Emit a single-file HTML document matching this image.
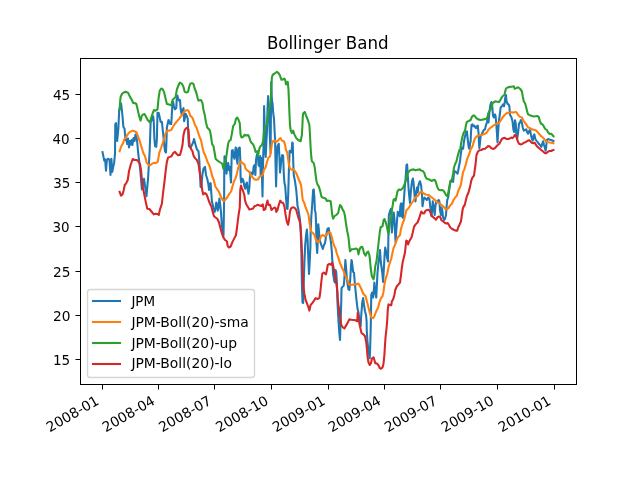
<!DOCTYPE html>
<html lang="en"><head><meta charset="utf-8"><title>Bollinger Band</title>
<style>html,body{margin:0;padding:0;background:#fff;}body{width:640px;height:480px;overflow:hidden;}svg{display:block;}text{font-family:'DejaVu Sans','Liberation Sans',sans-serif;fill:#000;}</style></head><body>
<svg width="640" height="480" viewBox="0 0 640 480">
<rect x="0" y="0" width="640" height="480" fill="#ffffff"/>
<g fill="#000000">
<rect x="102" y="384" width="1" height="5.5"/>
<rect x="158" y="384" width="1" height="5.5"/>
<rect x="214" y="384" width="1" height="5.5"/>
<rect x="271" y="384" width="1" height="5.5"/>
<rect x="328" y="384" width="1" height="5.5"/>
<rect x="384" y="384" width="1" height="5.5"/>
<rect x="440" y="384" width="1" height="5.5"/>
<rect x="497" y="384" width="1" height="5.5"/>
<rect x="554" y="384" width="1" height="5.5"/>
<rect x="75.5" y="94" width="5" height="1"/>
<rect x="75.5" y="138" width="5" height="1"/>
<rect x="75.5" y="182" width="5" height="1"/>
<rect x="75.5" y="226" width="5" height="1"/>
<rect x="75.5" y="271" width="5" height="1"/>
<rect x="75.5" y="315" width="5" height="1"/>
<rect x="75.5" y="359" width="5" height="1"/>
</g>
<g font-size="13.889">
<text transform="translate(49.776 432.453) rotate(-30)">2008-01</text>
<text transform="translate(105.787 432.453) rotate(-30)">2008-04</text>
<text transform="translate(162.223 432.453) rotate(-30)">2008-07</text>
<text transform="translate(219.253 432.453) rotate(-30)">2008-10</text>
<text transform="translate(275.883 432.453) rotate(-30)">2009-01</text>
<text transform="translate(331.801 432.453) rotate(-30)">2009-04</text>
<text transform="translate(387.937 432.453) rotate(-30)">2009-07</text>
<text transform="translate(444.767 432.453) rotate(-30)">2009-10</text>
<text transform="translate(501.797 432.453) rotate(-30)">2010-01</text>
<text transform="translate(70.278 99.528) scale(0.98 1.04)" text-anchor="end">45</text>
<text transform="translate(69.653 143.528) scale(0.97 1.06)" text-anchor="end">40</text>
<text transform="translate(70.278 187.528) scale(0.97 1)" text-anchor="end">35</text>
<text transform="translate(69.528 231.528) scale(0.97 1.02)" text-anchor="end">30</text>
<text transform="translate(70.403 276.528) scale(0.99 1.06)" text-anchor="end">25</text>
<text transform="translate(70.403 320.528) scale(0.99 1.04)" text-anchor="end">20</text>
<text transform="translate(70.278 364.528) scale(0.98 1)" text-anchor="end">15</text>
</g>
<clipPath id="axclip"><rect x="80" y="57.6" width="496" height="326.4"/></clipPath>
<g clip-path="url(#axclip)" fill="none" stroke-width="2.083" stroke-linejoin="round" stroke-linecap="square">
<path d="M102.50 152.12 L103.50 156.88 L104.25 160.62 L105.12 159.38 L106 170.62 L106.88 160 L107.75 158.75 L108.62 159 L109.50 160 L110.50 175 L111.38 158.75 L112.25 171.88 L113.25 166.88 L114.12 163.12 L115 153.75 L115.30 124 L116 123 L117.20 141 L118.40 128 L119.20 110 L121.10 103.50 L122.50 116 L123.40 127 L124.50 128.50 L125.60 140 L126.30 139 L127.20 144 L128 138.50 L129 147.50 L130 141 L130.80 144.50 L131.60 140 L132.40 145 L133.50 138 L134.50 141 L135.50 134.50 L136.40 136 L137.25 142.50 L138.12 152.50 L139.38 162.50 L140.25 170 L141.88 189.38 L144 178.75 L146.50 196.25 L148.12 177.50 L149 162.50 L149.75 148.75 L150.62 122.50 L153.12 116.25 L153.75 121.25 L154.38 138.75 L155.12 146.25 L156.25 146.75 L156.88 138.75 L157.50 112.75 L158.75 113.12 L160 118.75 L160.62 121.88 L161.88 121.88 L162.50 127.50 L163.75 140 L165 151.25 L166 152.50 L166.50 140 L166.88 127.50 L168.50 120 L170 123.75 L171.25 124 L172.25 106.88 L173.12 101.88 L174 106.88 L175 109.38 L176.25 108.12 L176.75 98.75 L177.38 95.50 L178.12 98.75 L179 100.62 L179.75 100 L180 100 L180.62 108.75 L181.50 113.75 L182.50 110 L183.50 108.12 L184.12 121.25 L185 117.50 L185.62 113.75 L186.88 116.25 L187.75 118.75 L188.12 130 L188.50 140 L189 146.25 L190.62 147.50 L191.88 145 L193.12 142.50 L194 139 L195.62 145 L196.88 149.38 L198.50 151.25 L199.38 161.25 L200 175 L200.62 186.88 L201.50 185 L202.50 173.75 L203.50 168.75 L205 166.88 L206 175 L207.25 178.75 L208.50 185 L209 190 L209.75 183.75 L210.62 183.12 L211.25 192.50 L212 201.88 L212.50 203.75 L213.75 209.38 L214.75 211.88 L215.62 207.50 L216.25 202.50 L216.88 203.75 L217.75 210.62 L218.50 207.50 L219.38 198.50 L220.25 205 L221 212.50 L221.75 223.75 L222.62 232.50 L223.50 235.75 L224.12 200 L224.25 172.50 L224.50 156.25 L225.25 156.88 L226 161.25 L226.50 173.75 L227.25 167.50 L228.12 163.12 L229 170 L229.75 166.88 L230.38 175 L231 182.50 L231.50 162.50 L231.88 150.62 L232.75 150 L233.50 156.25 L234.38 158.75 L235 153.75 L235.62 147.50 L236.25 148.12 L236.88 160 L237.50 163.75 L238.12 152.50 L238.75 148.12 L239.75 147.50 L240.25 158.75 L240.62 177.50 L241.25 182.50 L242.50 178.75 L243.50 181.25 L244.38 186.25 L245.25 188.75 L246.25 183.75 L246.88 182.50 L247.50 187.50 L248.50 193.75 L249.38 187.50 L250 175 L250.62 172.50 L251.88 173.12 L252.75 174.38 L253.75 166.25 L254.62 165 L255.38 175 L256 160 L256.88 155 L257.75 153.12 L258.50 165 L259.38 166.25 L259.88 158.75 L260.20 156 L260.70 175 L261.30 158 L261.90 172 L262.50 196.50 L263.10 162 L263.70 140 L264.10 106 L264.70 125 L265.20 150 L265.70 157 L266.30 144 L266.90 132 L267.50 110 L268.10 96 L268.80 108 L269.40 125 L270 140 L270.60 153 L271.20 82 L271.90 100 L272.60 104 L273.20 113 L274 119 L274.60 131 L275.10 140 L275.50 162 L276.10 186.50 L276.88 156.25 L277.50 146.25 L278.75 143.75 L279.38 156.25 L280 172.50 L280.62 167.50 L281.25 160 L282.25 155 L283.12 155.62 L283.75 172.50 L284.38 182.50 L285.20 186 L286 197.50 L286.90 208.50 L287.50 209 L288.20 195 L288.90 170 L289.60 151 L290.62 150.62 L291.50 152.50 L292.25 142.50 L292.75 143.12 L293.25 162.50 L293.75 175 L295 181.25 L296.25 190 L296.88 197.50 L297.50 205.62 L298.50 210 L300 220 L300.75 232.50 L301.38 252.50 L301.88 282.50 L302.50 302.50 L303.12 303.12 L303.75 282.50 L304.38 263.75 L305.20 245 L306 236 L306.90 229.50 L307.60 240 L308.30 258 L309 274 L309.70 262 L310.40 247 L310.62 232.50 L311.25 217.50 L312.25 203.75 L313.12 190 L313.75 189.38 L314.38 197.50 L314.88 210 L315.62 213.12 L316.12 225 L316.40 242 L317.20 253 L317.80 240 L318.30 224.20 L319.20 234 L320 241 L321.30 245 L322.80 249 L324 245 L325 243 L326.25 235 L327.50 228.75 L328.75 228.12 L329.75 235 L330.62 240 L331.25 245 L331.88 252.50 L332.50 263.75 L333.12 273.75 L334.38 281.25 L335 282.50 L335.62 270 L336.25 272.50 L336.88 282.50 L337.50 302.50 L338.50 321.25 L339.38 333.75 L340 340 L340.62 321.25 L341.25 302.50 L341.50 288.12 L342.50 286.88 L343.75 285.62 L344.38 278.75 L345 266.25 L345.38 260 L346.25 270 L346.88 278.75 L347.75 285 L348.50 289.38 L349.38 290 L350.25 278.75 L351 266.25 L351.50 260 L351.88 261.25 L352.50 266.25 L353.12 271.88 L354 272.50 L354.75 282.50 L355.62 291.25 L356.50 300 L357.50 308.75 L358.50 312.50 L360 326.25 L360.62 326.25 L361.25 315 L362.25 302.50 L363.12 298.12 L364 305 L365 311.25 L366 315 L366.62 321.25 L366.75 330 L367.50 342.50 L368.75 352.50 L369.75 358.12 L370.25 345 L370.75 326.25 L371.25 295 L372.25 292.50 L373.12 297.50 L373.75 291.25 L374.38 282.50 L375 290 L376.25 297.50 L376.88 285 L377.50 272.50 L378.12 266.25 L378.75 260 L379.40 256 L380 250 L380.80 262 L382.20 272 L383.10 282 L383.90 268 L384.60 255 L385.20 247.50 L386.20 252 L387.20 258 L388 261.50 L388.38 237.50 L388.62 225 L388.88 215 L390 211.25 L391 208.75 L391.50 218.75 L391.88 232.50 L392.50 225 L393.75 212.50 L394.50 220 L395 231.25 L395.62 242.50 L396.25 231.25 L396.88 222.50 L397.75 211.88 L398.75 212.50 L399.75 216.25 L400.30 207 L400.90 203.50 L401.60 216.50 L402.30 203.50 L403 218 L403.60 204 L404.10 197 L404.75 187.50 L405.38 181.25 L406 172.50 L406.50 165 L407.12 164.38 L407.75 175 L408.50 187.50 L409.25 196.25 L410 203 L410.88 191.25 L412 181.25 L412.88 178.50 L413.50 182.50 L414.25 191.25 L414.88 198.75 L415.50 201.50 L416.25 192.50 L417 187.50 L417.75 192.50 L418.50 185 L419.75 181.25 L420 181.25 L421 185 L421.88 192.50 L422.50 206.25 L423.50 200 L424.38 197.50 L425.62 198.75 L426.88 200 L428.12 197.50 L429.38 198.75 L430.25 206.25 L431 211.25 L431.50 216.25 L432.25 210 L432.75 201.25 L433.75 207.50 L434.75 215 L435.25 207.50 L436 202.50 L437.50 201.25 L438.75 200 L439.38 201.25 L440 210 L441 215 L441.50 207.50 L442.25 210 L443.12 217.50 L444 220 L445 218.75 L446 215 L446.50 207.50 L447.25 200 L448.12 197.50 L449.38 188.75 L450.62 180.62 L451.88 181.25 L453.12 181.88 L453.75 175 L454.75 171.25 L456.25 171.88 L457.50 173.75 L458.12 171.25 L459 166.25 L460 161.25 L461 152.50 L461.88 147.50 L463.12 148.75 L464 141.25 L465 136.25 L466 132.50 L466.88 131.25 L467.50 137.50 L468.12 142.50 L468.75 147.50 L469.38 148.75 L470 143.75 L470.62 141.25 L471 132.50 L471.50 125 L472.50 124.38 L473.50 126.25 L474.38 125.62 L475 126.88 L476 128.12 L476.88 126.25 L477.75 125.62 L478.50 132.50 L479 142.50 L479.38 148.12 L480 142.50 L480.62 136.25 L481.50 135 L482.50 132.50 L483.75 130 L485 129.38 L486 125 L486.88 122.50 L487.75 118.75 L488.50 122.50 L489.38 112.50 L490.38 105 L491.38 102 L492.12 104.38 L492.62 111.25 L493.12 116.25 L494 117.50 L495 114.38 L495.62 116.25 L496.25 123.75 L496.88 132.50 L497.50 142.50 L498.12 132.50 L498.75 122.50 L499.75 115 L500.62 107.50 L501.88 106.25 L503.12 104.38 L504 106.25 L504.75 102.50 L505.25 97.50 L506 95 L506.50 101.25 L507.50 103.75 L508.50 104.38 L509.38 106.25 L510 115 L510.62 115.62 L511.50 117.50 L512.50 121.25 L513.38 129.38 L514.12 131.88 L515 120.25 L515.75 123.75 L516.38 135 L517 139 L517.75 135 L518.38 130 L519 123.75 L520 122.50 L521 120 L521.88 122.50 L522.75 127.50 L523.75 130.62 L525 130 L526.25 129.38 L527.25 132.50 L528.12 133.75 L529 131.25 L530 130 L531 135 L531.88 138.75 L532.75 140.62 L533.75 135 L534.38 134.38 L535.25 138.75 L536.25 140.62 L537.50 141.88 L538.75 143.75 L540 145 L541.25 146.88 L542.25 143.75 L543.12 141.25 L544 145 L544.75 147.50 L545.62 150.62 L546.25 146.25 L546.88 140 L548.12 139 L550 139.75 L551.88 140.25 L553.45 141" stroke="#1f77b4"/>
<path d="M119.62 151.25 L121.25 146.25 L123.12 143.12 L124.38 139.38 L126.25 136.88 L128.12 133.75 L130 131.88 L132.75 130.62 L135 131.50 L136.62 132.50 L137.88 136.25 L139.38 140 L141.25 146.25 L143.12 152.50 L145 156.25 L146.88 163.12 L149.38 165.62 L151.25 164.38 L153.75 162.75 L155.62 163.12 L157.75 161.88 L159.38 152.50 L161.25 147.50 L162.50 143.75 L163.75 140 L165.62 133.12 L167.50 130.62 L169.38 130.62 L171.25 130 L172.50 127.50 L175 123.75 L177.50 120.62 L179.75 118.12 L180 117.50 L181.88 115 L183.75 112.25 L185.62 110.62 L187.50 110 L188.75 111.25 L190.25 115.62 L192.25 117.50 L193.75 121.25 L195 125 L196.50 127.50 L198.12 132.50 L199.75 137.50 L201 140 L202.25 146.25 L203.75 152.50 L205.62 156.25 L207.25 161.25 L209.38 165.62 L211 171.25 L212.25 176.25 L213.75 180 L215.25 186.25 L217.25 189.38 L218.75 191.50 L220.62 196 L222.25 199.50 L223.62 201 L225.12 200 L227.25 197.25 L229.38 193.75 L231.25 191.25 L232.50 186.25 L234 181.25 L235.62 178.12 L236.88 173.75 L238.12 168.12 L239.75 163.75 L241 161.50 L242.50 163.12 L244.38 164.38 L245.62 168.75 L247.50 170.62 L249.38 171.88 L250.62 175.62 L252.50 177.25 L254.38 179.38 L256.25 179.75 L258.12 179.38 L259.75 176.50 L260 176.25 L261.88 175.62 L263.12 173.75 L264 169.38 L265.62 167.50 L266.88 162.50 L268.12 158.12 L270 156.25 L271 151.25 L271.88 143.75 L273.12 141 L274.75 140.62 L276.25 141.88 L278.12 140.62 L279.38 138.75 L280.62 138.12 L281.88 140.62 L283.75 141.25 L285 144.38 L286 150 L287.25 152.50 L288.12 158.75 L289 165 L290 168.75 L291.50 169.75 L293.50 169 L295 171.25 L296.25 173.12 L297.50 176.25 L299 180 L300.62 183.75 L301.25 186.25 L301.88 192.50 L302.75 200 L304.38 203.12 L305.62 207.50 L307.25 211.25 L308.50 215 L309.38 221.25 L310.25 227.50 L311.25 231.88 L313.12 233.12 L314.38 235 L315.62 238.75 L316.88 241.25 L318.50 242.25 L319.75 240 L321 236.25 L322.50 235 L324.38 236 L326.25 235.62 L327.50 233.12 L329 232.25 L330.62 233.12 L331.88 237.50 L333.12 242.50 L334.38 246.25 L335.62 248.75 L336.88 253.75 L338.50 258.12 L340 263.12 L341.88 267.50 L343.75 271.25 L345.62 276.25 L347.50 280 L349 284.38 L350.62 285 L352.50 284.75 L356.25 284.38 L358.12 283.50 L359.38 285 L361.25 288.75 L363.12 293.50 L365.62 296.25 L366.88 301.25 L368.50 307.50 L370 313.75 L371.50 317.50 L373.12 318.12 L374.38 316.25 L376.25 311.25 L378.12 307.50 L379.38 302.50 L381 298.12 L382.50 296.25 L383.50 291.88 L384.38 285 L385.62 278.75 L387.25 273.75 L388.75 266.25 L390 262.50 L391.25 258.75 L392.25 253.75 L393.50 248.12 L395 245 L396.25 241.25 L397.50 238.12 L398.75 236.25 L400 235 L401 228.75 L402.50 223.75 L404 220 L405.25 215 L406.50 210 L408.12 208.75 L409.75 206.25 L411.25 203.75 L413.12 201.25 L414.75 198.12 L416.25 196.88 L418.12 195.62 L419.75 193.12 L420 192.25 L421.88 191.88 L423.75 193.50 L426.25 194.75 L428.75 195 L430.25 196.25 L431.88 197.50 L433.75 199 L435.62 200.62 L437.50 202.50 L440 203.75 L441.88 205.25 L443.75 206.88 L445.25 208.75 L446.88 209.38 L448.50 208.12 L450 205.62 L451.88 203.75 L453.50 200 L455.25 197.50 L456.88 195.62 L458.12 191.25 L459.75 187.50 L461 184.38 L461.88 178.75 L463.12 171.88 L464.38 169.38 L465.62 165 L466.88 160 L468.12 156.88 L469.38 153.75 L470.62 149.38 L472.50 146.25 L473.75 141.88 L475 138.12 L476.88 136.25 L479.38 135.25 L481.88 134.75 L484.38 134 L486.25 133.12 L487.50 131.25 L488.75 129.38 L490 128.12 L491.88 126.88 L493.75 125.25 L495.62 124 L497.50 123.50 L499.38 122.50 L501 120 L502.50 117.50 L504.38 115.25 L506.25 113.50 L508.12 112.75 L510 112.50 L511.88 112.25 L513.75 112.50 L515.62 111.88 L516.88 112.75 L518.12 115 L520 116.88 L521.88 117.50 L523.12 120 L524.75 122.50 L526.25 124.38 L528.12 127.50 L530 128.12 L531.88 129.38 L533.75 129.75 L535.62 130.25 L537.50 131.88 L539 133.75 L540.62 135.62 L542.50 137.25 L544 138.75 L545.62 141 L547.50 141.88 L549.38 142.50 L551.25 142.75 L553.12 143.12 L553.45 143.25" stroke="#ff7f0e"/>
<path d="M119.62 109.75 L120.25 100 L120.75 96.50 L122.25 93.50 L124.38 92.12 L126.25 91.88 L128.12 92.88 L130 96.88 L131.88 100 L133.12 102.88 L135 103.12 L136.38 104 L137.50 108.75 L139 115.62 L140.62 120.62 L141.88 115.62 L143.12 114.38 L144.50 114 L145.75 116.25 L147.50 119.75 L150 122.50 L151.25 117.50 L152.50 113.75 L154 110 L155.62 110.62 L157.50 109.38 L158.50 98.75 L159.75 90.62 L161.25 88.50 L162.50 89 L164 91.88 L165.62 98.75 L166.88 104 L168.75 104.38 L171.25 105.38 L172.50 100 L174.38 98.12 L175.62 96.88 L176.88 89.38 L178.12 86.25 L179.75 82.75 L180 82.50 L181.88 83.75 L183.50 86.88 L184.75 91.88 L186.50 92.50 L188.12 91.88 L189 87.50 L190.25 83.75 L191.88 83.12 L193.50 84 L194.75 88.75 L196.25 92.50 L197.50 97.50 L198.50 100.62 L199.75 100.25 L201 100 L202.50 103.12 L203.50 110 L204.75 115 L206 122.50 L207.25 127.50 L208.75 129 L210 130.62 L211 136.25 L211.75 141.88 L212.25 144.38 L213.50 146.25 L214.38 151.25 L215.62 158.75 L217.50 160.62 L220 162.25 L222.25 163.75 L223.50 169 L224.38 163.75 L226 158.75 L227.25 150 L228.12 143.75 L229.25 140.75 L230.62 140.12 L231.25 136.88 L231.88 133.75 L233.12 126.25 L234.75 123.75 L236 118.75 L237.25 117.50 L238.50 119.75 L239.75 123.12 L240.62 135 L241.50 137.50 L243.12 136.88 L244.75 134.75 L246.25 135.62 L248.12 135 L249.38 137.50 L250.25 140.62 L251.25 142.50 L253.12 144.38 L254.38 147.50 L255.62 151.88 L257.25 151.25 L258.12 155.62 L259 150 L260 146.88 L261.88 145 L263.12 141.25 L264 132.50 L265 126.25 L266.88 125 L267.75 117.50 L268.50 110 L269.75 107.50 L270.62 101.25 L271.25 90 L271.88 77.50 L272.75 74.75 L274.38 73.75 L275.62 72.75 L276.88 71.88 L278.50 73.12 L279.75 75 L280.62 77.50 L281.50 79.75 L283.12 79.38 L284.38 78.50 L285.38 80.62 L286 84.38 L286.88 82.50 L287.75 81.88 L288.50 90 L289 102.50 L289.50 115 L290 125 L290.62 130 L291.88 133.12 L293.12 130.62 L294.38 134.38 L296.25 138.12 L298.12 140 L300.62 141.25 L301.88 135 L302.30 127.50 L302.75 117.50 L303.12 113.50 L304.75 111.88 L305.62 114.38 L306.88 117.50 L308.12 120.62 L309.38 125 L310 135 L310.62 147.50 L311.25 156.25 L311.88 161.25 L313.75 163.12 L314.75 167.50 L315.62 175 L316.50 181.25 L317.50 184.38 L319 186.88 L320.25 191.25 L321.50 196.88 L323.12 197.75 L325.62 198.50 L326.88 201 L328.75 200.62 L330.62 201.25 L331.50 208.12 L332.25 215 L333.12 218.75 L334.38 216.25 L336.50 214.75 L338.12 213.12 L339.38 207.50 L340 205 L341.25 206.25 L342.50 209.38 L344 211.88 L345 216.25 L346 223.75 L347.25 231.25 L348.50 237.50 L349.38 246.25 L350 251.25 L351.50 249.38 L353.75 249 L356.25 248.50 L357.50 249.38 L358.50 254.38 L359.38 250 L360.62 247.25 L362.25 246.88 L363.12 249.38 L364 253.12 L365.62 255.62 L366.88 252.50 L368.12 251.50 L369.38 255 L370 260 L370.62 267.50 L371.88 276.25 L373.50 279.38 L374.38 275 L375.25 266.25 L376.50 261.25 L377.50 252.50 L378.75 241.25 L379.75 232.50 L380.62 227.25 L382.50 226.25 L383.50 220.62 L384.38 219 L385.62 221.88 L386.88 226.25 L387.75 231.25 L388.50 233.75 L389.38 227.50 L390.25 221.25 L391.50 216.25 L391.88 210 L392.75 205 L393.50 200 L394.38 199 L395.62 200.62 L396.50 196.25 L397.50 191.25 L399 189.38 L400.62 190 L402.25 188.75 L403.75 186.25 L405 182.75 L406 180 L406.88 175 L408.12 172.50 L409.75 170.62 L411.50 169.75 L413.50 169.38 L415.62 170.25 L417.50 169.75 L419.75 169.38 L421.25 170.62 L423.12 171.25 L424.38 173.12 L425.25 176.25 L426.50 178.50 L428.50 179.38 L430 179.75 L431.50 181 L433.12 180.25 L434.38 179.75 L435.62 181.25 L436.50 184.38 L437.50 187.50 L438.75 189.75 L440.62 190.25 L442.50 190 L444 191.25 L445.25 193.75 L446.50 195.62 L447.50 196.25 L448.50 191.25 L449.38 186.25 L450.25 181.88 L451.88 180 L453.12 173.75 L454 167.50 L455.25 163.75 L456.50 161.25 L457.50 156.88 L458.50 153.12 L459.38 150 L460.25 148.75 L461.25 142.50 L462.25 137.50 L463.50 133.12 L465 130.62 L466 125 L466.88 121.88 L468.75 121 L470.62 120 L471.88 116.88 L473.75 115.25 L475 116.25 L476.25 118.12 L478.12 119.38 L480.62 120 L483.75 119.38 L486.25 118.75 L487.50 116.88 L488.50 112.50 L489.38 111.25 L490 110 L491.25 108.75 L492.25 103.75 L493.75 102.25 L495.62 101.25 L497.50 101.88 L499.38 101.88 L501 98.75 L502.50 96.25 L504.38 95 L505.25 91.25 L506 88.50 L507.50 87.50 L510 86.88 L512.50 86.50 L513.75 86.25 L514.75 88.75 L516.25 88.12 L518.12 87.25 L520 88.75 L521.88 91.25 L522.75 96.25 L523.75 101.25 L525.25 103.75 L526.25 107.50 L527.25 111.88 L528.12 114.38 L530 115.25 L531.88 116 L533.75 116.50 L535.62 116.25 L537.25 116 L538.75 116.88 L539.75 120.62 L541 123.75 L542.50 124.38 L543.75 126.25 L545 128.75 L546.88 130 L548.12 132.50 L549.75 134 L551.25 133.75 L552.50 135 L553.45 136.25" stroke="#2ca02c"/>
<path d="M119.62 191.88 L121 195.62 L122.50 194.38 L123.75 190 L124.75 185 L126.25 183.12 L127.75 180 L129 171.25 L130.62 165 L132.75 159 L134.38 160 L136.88 160 L138.75 161.88 L140.25 165 L141.25 172.50 L142.50 185 L143.12 188.75 L144.38 195 L146 203.12 L147.25 208.75 L149.38 209 L151.25 211.25 L153.75 214.38 L155.62 213.75 L157.50 214 L158.75 215 L160 209.38 L161.88 203.75 L163.12 192.50 L164.38 182.50 L165.62 171.25 L166.88 161.88 L168.12 157.50 L170 156.88 L171.50 156.25 L173.12 153.12 L175 151.88 L176.50 153.75 L178.12 155.25 L179.75 154.75 L180 155 L181.25 150.62 L182.50 145 L183.50 135 L184.75 130 L186.25 128.12 L187.75 127.88 L188.50 130 L189.25 141.25 L189.75 146.25 L191.25 149.38 L192.50 151.25 L193.50 155.62 L195 158.12 L196.88 160 L198.50 163.75 L199.38 170 L200.62 177.50 L201.50 185 L202.25 190 L203.12 194.38 L205 193.12 L206.50 194.38 L207.75 197.50 L208.50 200 L210 203.75 L211.50 206.88 L212.75 211.88 L214 216.25 L215.62 217.50 L217.50 219 L219 222.50 L220.25 227.50 L221.88 233.12 L223.12 236.88 L225 240 L226.88 241.25 L227.75 246.25 L229 247.50 L230.62 246.50 L232.50 241.88 L234.38 238.12 L236 235 L236.88 228.75 L237.75 221.25 L238.75 213.75 L239.75 207.50 L240.25 190 L241 185.62 L241.88 188.12 L243.12 191.25 L244.38 195 L245 200 L246 203.75 L247.50 206.25 L249.38 209.38 L251.25 209 L253.12 208.50 L254.38 206.25 L256.25 205.62 L257.50 204.75 L259 205.25 L260 205.62 L261.50 206 L262.75 204.38 L263.75 210 L265.25 209.38 L266.25 205 L267.50 200.62 L268.50 205 L270 204.75 L271.50 210 L272.75 208.75 L274.38 207.50 L275.62 208.12 L276.25 211.88 L277.50 210 L278.75 205 L280.25 200.62 L281.50 202.50 L283.12 202.75 L284.38 206.25 L285.62 215 L286.88 221.88 L288.12 224.75 L289 220 L290 211.25 L291.25 208.12 L293.12 207.25 L295 208.12 L296.25 210 L297.25 213.75 L298.75 218.75 L300 222.50 L300.62 227.50 L301.25 237.50 L301.75 247.50 L302.25 257.50 L302.75 276.25 L303.50 287.50 L304.38 293.75 L305.62 300 L306.88 303.12 L308.50 307.50 L309.38 310.62 L310.62 305 L312.25 303.12 L314 300.62 L315.62 298.12 L317.50 299 L319.38 298.12 L320.25 292.50 L321.25 282.50 L322.25 273.75 L323.75 272.50 L326 274.38 L326.88 270 L327.75 265 L329.38 264 L331.25 264.75 L332.25 262.50 L333.12 265.62 L334 270 L335 275 L336.25 282.50 L337.50 292.50 L337.75 298.75 L338.75 307.50 L340 316.25 L341.25 325 L342.75 327.25 L344.38 328.50 L346 325.62 L347.75 322.50 L349.38 319.38 L351.25 319.75 L353.75 320 L355.62 320.25 L357.25 321.25 L357.75 312.50 L358.50 317.50 L359.38 322.50 L360.25 327.50 L361.50 333.12 L363.50 334.38 L365 336.25 L366.25 342.50 L366.88 348.75 L367.50 356.25 L368.50 362.50 L369.75 365 L371 363.12 L371.88 358.75 L373.50 357.25 L374.38 360 L375.25 363.12 L376.88 363.50 L378.50 365.25 L379.75 368.12 L381 368.75 L382.50 367.50 L383.50 363.75 L384.38 355 L385 345 L385.62 336.25 L386.50 328.75 L387.25 320 L387.75 310 L388.50 304.38 L390 305 L391.25 305.25 L391.88 301.25 L393.12 299.38 L394.38 295 L395.25 290 L396.88 286.25 L398.50 284.38 L400 282.50 L401 275 L401.88 267.50 L402.75 261.88 L405 252.50 L405.62 246.25 L406.25 240.62 L407.25 241.25 L408.12 244.38 L409 241.88 L410 240 L411.50 237.50 L412.75 232.50 L414 226.88 L415.62 224.38 L417.50 222.50 L419 218.75 L420 215.62 L421.25 211.50 L422.50 213.12 L424 213.50 L425.62 210.62 L427.25 210 L428.75 209.75 L430.25 211.88 L431.25 215 L432.75 216.88 L434.38 218.12 L436 219.75 L437.25 217.50 L439 216.50 L440.25 216.88 L441.25 220 L443.12 221.50 L444.75 222.75 L446.25 223.50 L447.75 223.12 L449 225 L450.25 227.50 L451.88 228.75 L453.75 229.75 L455.62 230.62 L457.25 230.62 L458.12 227.50 L459.38 225 L461 221.25 L461.88 215 L462.75 208.75 L463.75 206.25 L464.75 205 L465.62 201.25 L466.88 196.25 L468.50 192.50 L470 186.88 L471.25 180.62 L472.50 177.50 L474 175.62 L474.75 170 L475.62 163.75 L476.50 155 L477.75 151.88 L479.38 150.25 L481.25 150 L483.12 149 L485 148.75 L486.88 147.25 L488.12 146 L489.75 146.50 L491.25 148.12 L493.12 149 L495 148.12 L496.50 146.25 L497.75 145 L499.38 143.75 L500.62 141.25 L501.88 139 L503.50 138.12 L504.75 137.75 L506.25 139 L508.12 139 L509.75 138.50 L511.25 137.50 L512.50 138.12 L513.75 136.88 L514.75 135 L516 135.62 L516.88 138.12 L517.75 141.25 L519 143.75 L520.62 144.38 L522.25 144 L523.75 142.75 L525.62 142.25 L527.25 141 L529 140.25 L530.25 141 L531.50 142.75 L533.12 143.12 L534.75 142.75 L536 145 L537.50 146.88 L539.38 148.50 L541.25 150 L543.12 151.50 L544.75 153.12 L546.25 153.12 L547.75 151.88 L549.38 151 L551.25 151 L552.50 150.25 L553.45 150" stroke="#d62728"/>
</g>
<g fill="#000000">
<rect x="80" y="58" width="1" height="327"/>
<rect x="576" y="58" width="1" height="327"/>
<rect x="80" y="58" width="497" height="1"/>
<rect x="80" y="384" width="497" height="1"/>
</g>
<text transform="translate(327.75 48.52) scale(1 1.06)" text-anchor="middle" font-size="16.667">Bollinger Band</text>
<rect x="87.5" y="289.5" width="167" height="88" rx="2.78" ry="2.78" fill="#ffffff" stroke="#cccccc" stroke-width="1.389" opacity="0.8"/>
<g font-size="13.889">
<rect x="91.96" y="299.96" width="29.08" height="2.08" fill="#1f77b4"/>
<text transform="translate(131.4 305.611) scale(0.97 1.06)">JPM</text>
<rect x="91.96" y="320.96" width="29.08" height="2.08" fill="#ff7f0e"/>
<text transform="translate(131.4 326.611) scale(1 1.02)">JPM-Boll(20)-sma</text>
<rect x="91.96" y="341.96" width="29.08" height="2.08" fill="#2ca02c"/>
<text transform="translate(131.4 347.611) scale(1 1.02)">JPM-Boll(20)-up</text>
<rect x="91.96" y="362.96" width="29.08" height="2.08" fill="#d62728"/>
<text transform="translate(131.4 367.611) scale(1 1.04)">JPM-Boll(20)-lo</text>
</g>
</svg>
</body></html>
